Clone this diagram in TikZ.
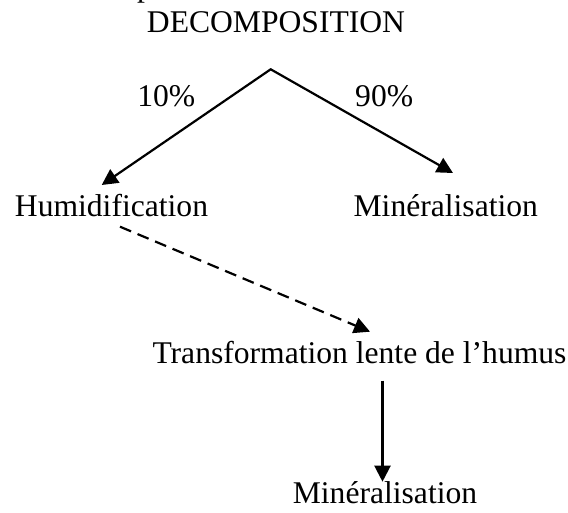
\documentclass[tikz,border=0pt]{standalone}
\usepackage{fontspec}
\setmainfont{Liberation Serif}
\usetikzlibrary{arrows.meta}
\begin{document}
\begin{tikzpicture}[x=1pt,y=-1pt,
  lbl/.style={inner sep=0pt, anchor=base, font=\fontsize{31.6}{38}\selectfont},
  tip/.style={Triangle[length=16pt,width=16pt]},
  conn/.style={line width=2.2pt, -{Triangle[length=16pt,width=16pt]}},
  dconn/.style={conn, dash pattern=on 12pt off 7pt}]
\useasboundingbox (0,0) rectangle (568,513);
\node[lbl, anchor=base west] (pfrag) at (137,-3.9) {p};
\node[lbl] (dec) at (276,33) {DECOMPOSITION};
\node[lbl] (p10) at (166.3,106.7) {10\%};
\node[lbl] (p90) at (384.2,106.7) {90\%};
\node[lbl] (hum) at (111.5,216.7) {Humidification};
\node[lbl] (min1) at (445.8,216.7) {Minéralisation};
\node[lbl] (trans) at (359.5,363.3) {Transformation lente de l’humus};
\node[lbl] (min2) at (385,503) {Minéralisation};
\coordinate (apex) at (270.7,69.3);
\coordinate (humtip) at (101.7,185);
\coordinate (mintip) at (453,173);
\coordinate (dstart) at (120,226.7);
\coordinate (dend) at (370,331.7);
\coordinate (vstart) at (382.5,380.7);
\coordinate (vend) at (382.5,481.7);
\draw[line width=2.2pt, {Triangle[length=16pt,width=16pt]}-{Triangle[length=16pt,width=16pt]}] (humtip) -- (apex) -- (mintip);
\draw[dconn] (dstart) -- (dend);
\draw[conn] (vstart) -- (vend);
\end{tikzpicture}
\end{document}
